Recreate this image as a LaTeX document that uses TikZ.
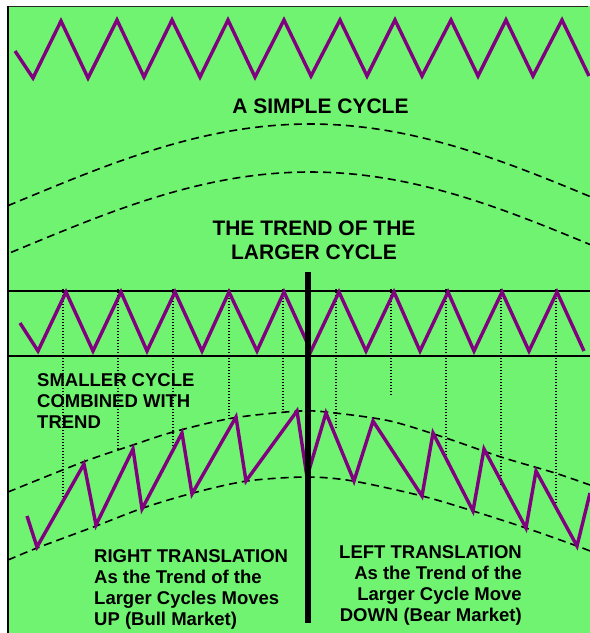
\documentclass[tikz,border=0pt]{standalone}
\usepackage{fontspec}
\setmainfont{Liberation Sans}
\definecolor{chartgreen}{RGB}{112,243,112}
\definecolor{cyclepurple}{RGB}{128,0,128}
\tikzset{
  chart/.style={x=1pt, y=-1pt},
  cycleline/.style={cyclepurple, line width=3.4pt, line join=miter},
  trendline/.style={black, line width=1.6pt, dash pattern=on 8pt off 5pt},
  dropline/.style={black, line width=1.2pt, dash pattern=on 1.2pt off 1.8pt},
  bandline/.style={black, line width=1.3pt},
  ctitle/.style={font=\bfseries\fontsize{21}{24}\selectfont, inner sep=0pt},
  cnote/.style={font=\bfseries\fontsize{18.5}{21}\selectfont, inner sep=0pt},
}

\begin{document}
\begin{tikzpicture}[chart]
  \useasboundingbox (0,0) rectangle (590,633);
  % panel and frame
  \fill[chartgreen] (8,6) rectangle (590,633);
  \draw[line width=1pt, black!85] (8,6) -- (588,6);
  \draw[line width=2pt] (8,6) -- (8,633);
  % the simple cycle
  \draw[cycleline] (15,51) -- (33,78) -- (61,21) -- (88,78) -- (117,20)
    -- (144,77) -- (172,20) -- (200,77) -- (228,20) -- (255,77) -- (284,20)
    -- (311,76) -- (340,20) -- (367,76) -- (395,20) -- (422,76) -- (451,20)
    -- (478,76) -- (506,20) -- (533,76) -- (562,20) -- (589,76);
  \node[ctitle, anchor=base] (simple) at (320.5,113) {A SIMPLE CYCLE};
  % the larger cycle as a band
  \draw[trendline] plot[domain=8:590, samples=70]
    (\x, {124+76.8*(1-cos(0.31*(\x-310)))});
  \draw[trendline] plot[domain=11:590, samples=70]
    (\x, {172+76.8*(1-cos(0.31*(\x-310)))});
  \node[ctitle, anchor=north, align=center] (larger) at (314,221)
    {THE TREND OF THE\\LARGER CYCLE};
  % smaller cycle between two rules
  \draw[bandline] (8,291) -- (590,291) (8,356) -- (590,356);
  \draw[dropline] (63,289) -- (63,497) (118,289) -- (118,450)
    (173,289) -- (173,450) (229,289) -- (229,420) (283,289) -- (283,412);
  \draw[dropline] (336,289) -- (336,428) (391,289) -- (391,396)
    (446,289) -- (446,455) (501,289) -- (501,485) (556,289) -- (556,503);
  \draw[cycleline] (20,323) -- (38,351) -- (66,292) -- (93,351) -- (121,292)
    -- (147,351) -- (175,292) -- (202,351) -- (229,292) -- (257,351) -- (284,292)
    -- (311,351) -- (339,292) -- (366,351) -- (394,292) -- (420,351) -- (448,292)
    -- (474,351) -- (502,292) -- (529,351) -- (557,292) -- (584,351);
  % trend channel of the combined cycle
  \draw[trendline] plot[smooth] coordinates {(8,492) (83,462) (133,445)
    (173,432) (233,418) (300,411) (335,413) (390,421) (443,437) (501,457)
    (555,473) (590,485)};
  \draw[trendline] plot[smooth] coordinates {(8,560) (37,548) (96,526)
    (143,508) (193,493) (247,481) (307,477) (353,481) (422,496) (473,511)
    (526,528) (577,546) (590,551)};
  \draw[cycleline] (27,516) -- (37,547) -- (84,464) -- (96,525) -- (133,449)
    -- (142,509) -- (182,433) -- (192,494) -- (236,417) -- (246,481) -- (297,411)
    -- (307,477) -- (326,413) -- (354,481) -- (373,421) -- (422,496) -- (433,433)
    -- (473,511) -- (484,449) -- (526,528) -- (536,471) -- (577,546) -- (590,493);
  % turning point of the larger cycle
  \draw[line width=6pt] (308,272) -- (308,623);
  % labels
  \node[cnote, anchor=north west, align=left] (combined) at (37,373)
    {SMALLER CYCLE\\COMBINED WITH\\TREND};
  \node[cnote, anchor=north west, align=left] (righttr) at (94,549)
    {RIGHT TRANSLATION\\As the Trend of the\\Larger Cycles Moves\\UP (Bull Market)};
  \node[cnote, anchor=north east, align=right] (lefttr) at (522,545)
    {LEFT TRANSLATION\\As the Trend of the\\Larger Cycle Move\\DOWN (Bear Market)};
\end{tikzpicture}
\end{document}
